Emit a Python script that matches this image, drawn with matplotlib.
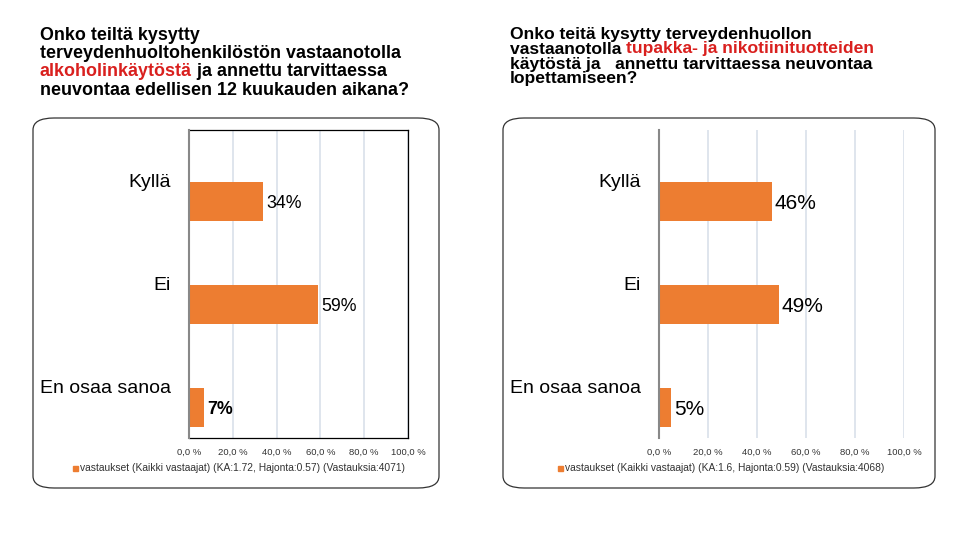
import matplotlib
matplotlib.use("Agg")
import matplotlib.pyplot as plt
from matplotlib.patches import FancyBboxPatch, Rectangle

plt.rcParams['font.family'] = ['Liberation Sans', 'DejaVu Sans']

# data
categories = ["Kyllä", "Ei", "En osaa sanoa"]
alko_values = [34, 59, 7]
tupakka_values = [46, 49, 5]
ticks = [0, 20, 40, 60, 80, 100]
tick_labels = ["0,0 %", "20,0 %", "40,0 %", "60,0 %", "80,0 %", "100,0 %"]
alko_legend = "vastaukset (Kaikki vastaajat) (KA:1.72, Hajonta:0.57) (Vastauksia:4071)"
tupakka_legend = "vastaukset (Kaikki vastaajat) (KA:1.6, Hajonta:0.59) (Vastauksia:4068)"

alko_title = [
    [("Onko teiltä kysytty", "black")],
    [("terveydenhuoltohenkilöstön vastaanotolla", "black")],
    [("alkoholinkäytöstä", "#D9201E"), (" ja annettu tarvittaessa", "black")],
    [("neuvontaa edellisen 12 kuukauden aikana?", "black")],
]
tupakka_title = [
    [("Onko teitä kysytty terveydenhuollon", "black")],
    [("vastaanotolla ", "black"), ("tupakka- ja nikotiinituotteiden", "#D9201E")],
    [("käytöstä ja   annettu tarvittaessa neuvontaa", "black")],
    [("lopettamiseen?", "black")],
]

ORANGE = "#ED7D31"
W, H = 960, 540

fig = plt.figure(figsize=(9.6, 5.4), dpi=100)
renderer = fig.canvas.get_renderer()


def fx(x):
    return x / W


def fy(y):
    return 1 - y / H


def title_block(lines, x0, y0, dy, size):
    for i, line in enumerate(lines):
        x = fx(x0)
        for seg, col in line:
            t = fig.text(x, fy(y0 + i * dy), seg, color=col, fontsize=size,
                         fontweight="bold", va="center", ha="left")
            bb = t.get_window_extent(renderer)
            x = bb.x1 / W


def panel(box, axpos, values, legend, legend_x, framed, cat_size, val_size):
    # rounded frame
    bx0, by0, bx1, by1 = box
    fig.patches.append(FancyBboxPatch(
        (fx(bx0), fy(by1)), fx(bx1 - bx0), (by1 - by0) / H,
        boxstyle="round,pad=0,rounding_size=0.022", transform=fig.transFigure,
        fill=False, edgecolor="#333333", linewidth=0.9))

    x0, y0, x1, y1 = axpos
    ax = fig.add_axes([fx(x0), fy(y1), fx(x1 - x0), (y1 - y0) / H])
    pos = list(range(len(categories)))
    ax.barh(pos, values, height=0.38, color=ORANGE, zorder=3)
    ax.set_xlim(0, 100)
    ax.set_ylim(2.30, -0.69)
    ax.set_xticks(ticks)
    ax.set_xticklabels(tick_labels, fontsize=6.8, color="#333333")
    ax.tick_params(axis="x", length=0, pad=7)
    ax.set_yticks([])
    ax.grid(axis="x", color="#DCE3EC", linewidth=1.3, zorder=0)
    for s in ["top", "right", "bottom"]:
        ax.spines[s].set_visible(framed)
        ax.spines[s].set_color("black")
        ax.spines[s].set_linewidth(0.9)
    ax.spines["left"].set_color("#888888")
    ax.spines["left"].set_linewidth(1.5)
    ax.spines["left"].set_zorder(4)

    for p, cat, v in zip(pos, categories, values):
        ax.annotate(cat, (0, p - 0.18), xytext=(-13, 0), textcoords="offset points",
                    ha="right", va="center", fontsize=cat_size, annotation_clip=False)
        ax.annotate(f"{v}%", (v, p + 0.02), xytext=(2, 0), textcoords="offset points",
                    ha="left", va="center", fontsize=val_size,
                    fontweight="bold" if v < 10 and framed else "normal")

    # legend
    fig.patches.append(Rectangle((fx(legend_x - 3), fy(470.5)), 5 / W, 5 / H,
                                 transform=fig.transFigure, color=ORANGE))
    fig.text(fx(legend_x + 4), fy(468), legend, fontsize=7.4, color="#333333",
             va="center", ha="left")
    return ax


title_block(alko_title, 40, 35, 18.5, 12.9)
title_block(tupakka_title, 510, 34, 15, 12.6)

panel((33, 118, 439, 488), (189, 130, 408, 438), alko_values, alko_legend, 76,
      True, 14, 12.8)
panel((503, 118, 935, 488), (659, 130, 904, 438), tupakka_values, tupakka_legend, 561,
      False, 14, 15)

fig.savefig("out.png", dpi=100)
